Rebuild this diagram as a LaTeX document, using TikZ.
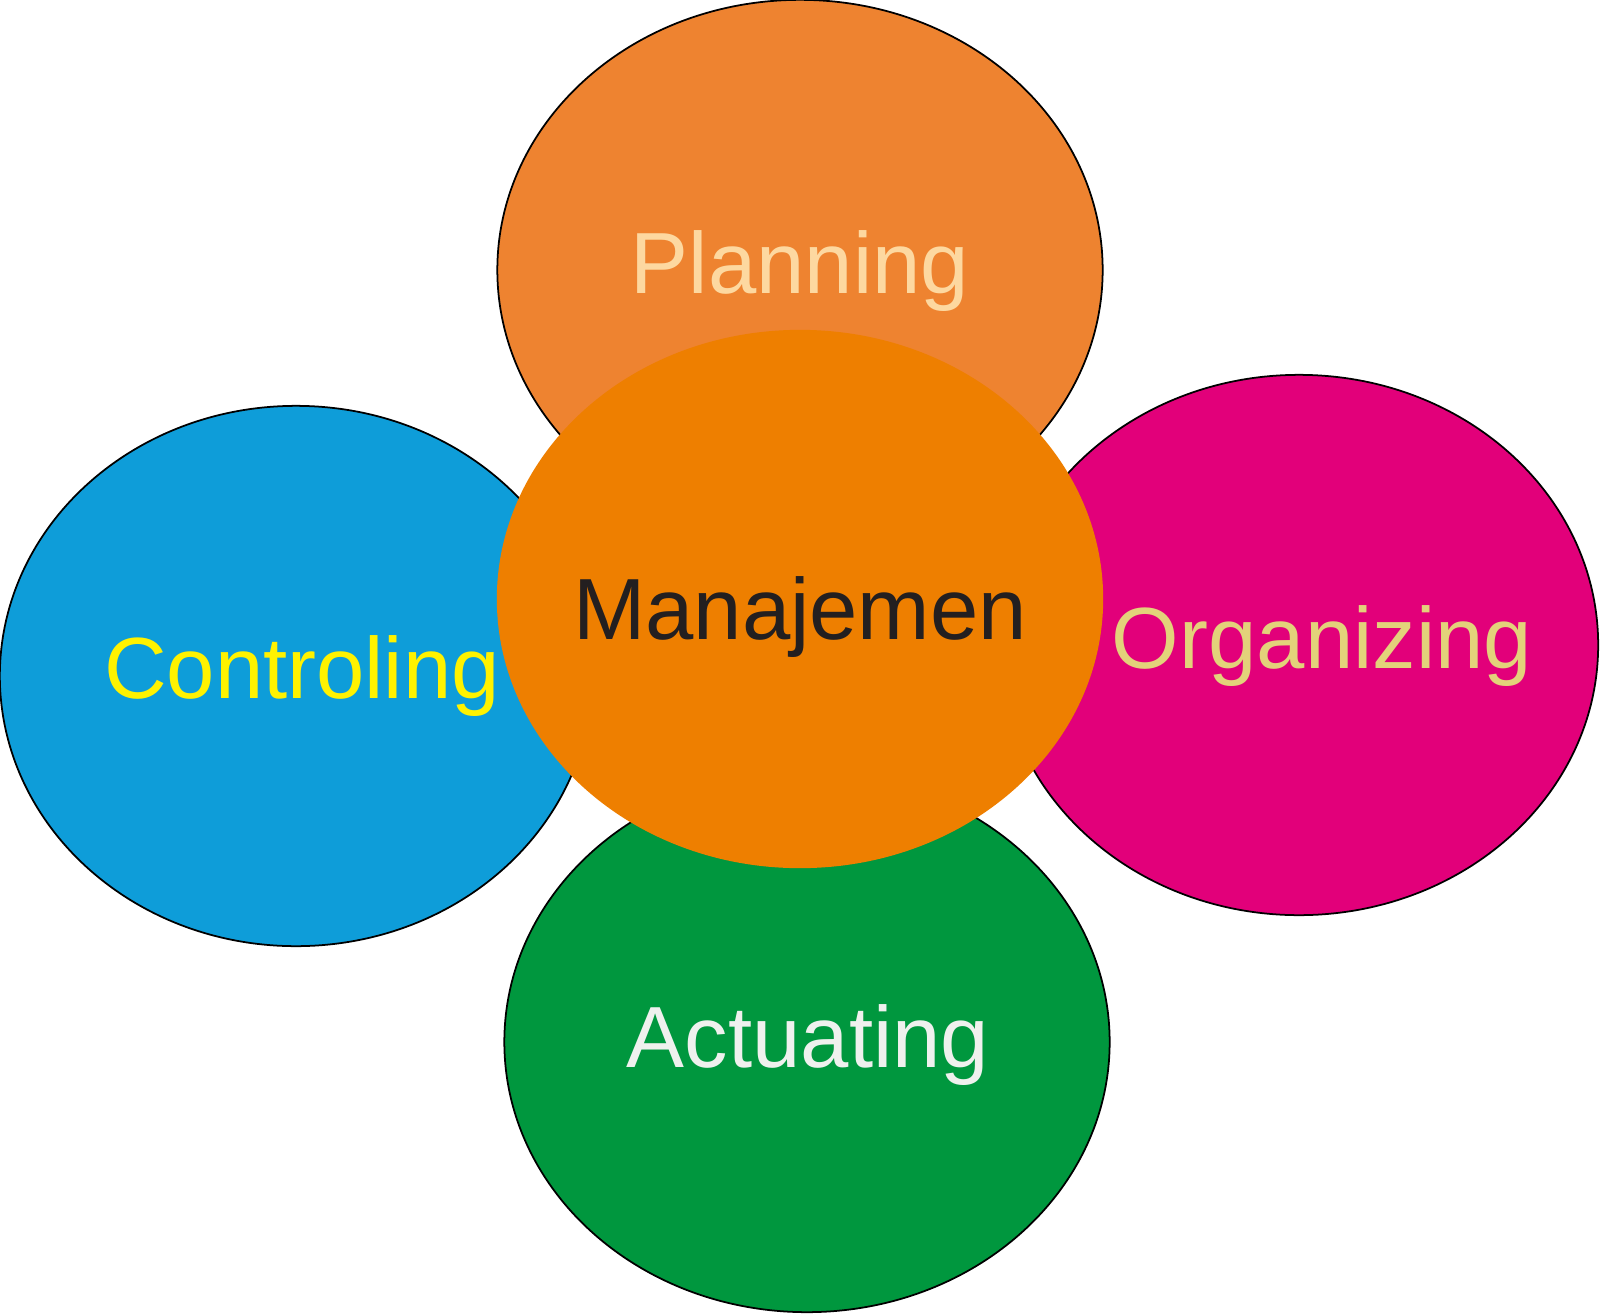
\documentclass[tikz,border=0pt]{standalone}
\usepackage{fontspec}
\setmainfont{Liberation Sans}
\usetikzlibrary{shapes.geometric}

\definecolor{planfill}{HTML}{EE8330}
\definecolor{planink}{HTML}{FDD8A0}
\definecolor{ctrlfill}{HTML}{0E9DD9}
\definecolor{ctrlink}{HTML}{FFF200}
\definecolor{orgfill}{HTML}{E2007A}
\definecolor{orgink}{HTML}{E3D27A}
\definecolor{actfill}{HTML}{00973E}
\definecolor{actink}{HTML}{EFF1EE}
\definecolor{corefill}{HTML}{EE7F00}
\definecolor{coreink}{HTML}{231F20}

\tikzset{
  petal/.style={ellipse,inner sep=0pt,outer sep=0pt,draw=black,
    line width=0.5pt,minimum width=6.05cm,minimum height=5.4cm},
  core/.style={ellipse,inner sep=0pt,outer sep=0pt,
    minimum width=6.06cm,minimum height=5.38cm,fill=corefill},
  word/.style={anchor=base,font=\fontsize{24.7}{29}\selectfont}
}

\begin{document}
\begin{tikzpicture}[x=0.01cm,y=-0.01cm]
  \useasboundingbox (0,0) rectangle (1600,1315);

  \node[petal,fill=planfill] (P) at (800,270) {};
  \node[petal,fill=ctrlfill,minimum width=5.92cm] (C) at (296,676) {};
  \node[petal,fill=orgfill,minimum width=5.98cm] (O) at (1299,645) {};
  \node[petal,fill=actfill] (A) at (807,1042) {};
  \node[core] (M) at (800,599) {};

  \node[word,text=planink] (Pt) at (800,293) {Planning};
  \node[word,text=ctrlink] (Ct) at (302,698) {Controling};
  \node[word,text=orgink] (Ot) at (1322,668) {Organizing};
  \node[word,text=actink] (At) at (808,1067) {Actuating};
  \node[word,text=coreink] (Mt) at (800,639) {Manajemen};
\end{tikzpicture}
\end{document}
